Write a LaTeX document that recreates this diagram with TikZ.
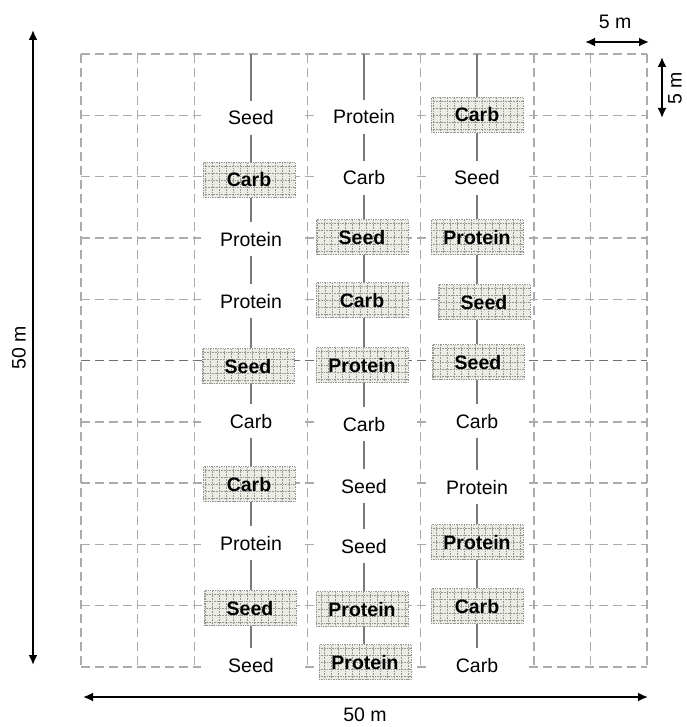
\documentclass[tikz,border=0pt]{standalone}
\usepackage{fontspec}
\setmainfont{Liberation Sans}
\usetikzlibrary{arrows.meta}
\definecolor{gridgray}{HTML}{ABABAB}
\definecolor{midgray}{HTML}{707070}
\definecolor{linegray}{HTML}{7A7A7A}
\definecolor{boxfill}{HTML}{EAEDE4}
\definecolor{boxgrid}{HTML}{959595}
\begin{document}
\begin{tikzpicture}[x=1pt,y=-1pt,
  gridline/.style={gridgray, line width=1.4pt, dash pattern=on 9pt off 5pt},
  midline/.style={midgray, line width=1.4pt, dash pattern=on 9pt off 5pt},
  lbl/.style={inner sep=0pt, text height=14pt, text depth=0pt, font=\fontsize{19.5}{20}\selectfont},
  plain/.style={lbl, fill=white, minimum width=100pt, minimum height=33pt},
  plot/.style={lbl, fill=boxfill, draw=boxgrid, densely dotted, line width=0.7pt,
     minimum width=92pt, minimum height=35pt, font=\fontsize{19.5}{20}\selectfont\bfseries,
     path picture={\draw[boxgrid, densely dotted, line width=0.6pt]
       (path picture bounding box.south west) grid[step=7pt] (path picture bounding box.north east);}},
  chain/.style={linegray, line width=1.8pt},
  dim/.style={black, line width=1.8pt, {Latex[length=10pt,width=9pt]}-{Latex[length=10pt,width=9pt]}},
  dimlabel/.style={inner sep=0pt, font=\fontsize{19.5}{20}\selectfont}
]
\fill[white] (0,0) rectangle (686,727);
\useasboundingbox (0,0) rectangle (686,727);

% grid
\foreach \i in {0,1,2,4,6,8,9,10} \draw[gridline] ({81+56.6*\i},54) -- ({81+56.6*\i},667);
\foreach \j in {0,...,10} \draw[gridline] (81,{54+61.3*\j}) -- (647,{54+61.3*\j});
\draw[midline] (81,360.5) -- (647,360.5);

% column tops
\coordinate (c1top) at (251,54);
\coordinate (c2top) at (364,54);
\coordinate (c3top) at (477,54);

% column 1
\node[plain] (c1n1) at (251,118) {Seed};
\node[plot]  (c1n2) at (249,180) {Carb};
\node[plain] (c1n3) at (251,239) {Protein};
\node[plain] (c1n4) at (251,301) {Protein};
\node[plot]  (c1n5) at (248,366) {Seed};
\node[plain] (c1n6) at (251,421) {Carb};
\node[plot]  (c1n7) at (249,484) {Carb};
\node[plain] (c1n8) at (251,543) {Protein};
\node[plot]  (c1n9) at (250,608) {Seed};
\node[plain] (c1n10) at (251,665) {Seed};

% column 2
\node[plain] (c2n1) at (364,117) {Protein};
\node[plain] (c2n2) at (364,178) {Carb};
\node[plot]  (c2n3) at (362,237) {Seed};
\node[plot]  (c2n4) at (362,300) {Carb};
\node[plot]  (c2n5) at (362,365) {Protein};
\node[plain] (c2n6) at (364,424) {Carb};
\node[plain] (c2n7) at (364,486) {Seed};
\node[plain] (c2n8) at (364,546) {Seed};
\node[plot]  (c2n9) at (362,609) {Protein};
\node[plot]  (c2n10) at (365,662) {Protein};

% column 3
\node[plot]  (c3n1) at (477,115) {Carb};
\node[plain] (c3n2) at (477,178) {Seed};
\node[plot]  (c3n3) at (477,237) {Protein};
\node[plot]  (c3n4) at (484,302) {Seed};
\node[plot]  (c3n5) at (478,362) {Seed};
\node[plain] (c3n6) at (477,421) {Carb};
\node[plain] (c3n7) at (477,487) {Protein};
\node[plot]  (c3n8) at (477,542) {Protein};
\node[plot]  (c3n9) at (477,606) {Carb};
\node[plain] (c3n10) at (477,665) {Carb};

% chains
\foreach \c in {1,2,3}{
  \draw[chain] (c\c top) -- (c\c n1.north -| c\c top);
  \foreach \k [evaluate=\k as \m using int(\k+1)] in {1,...,9}
    \draw[chain] (c\c n\k.south -| c\c top) -- (c\c n\m.north -| c\c top);
}

% dimensions
\coordinate (lt) at (33,30);
\coordinate (lb) at (33,665);
\draw[dim] (lt) -- (lb);
\node[dimlabel, rotate=90] (llab) at (19,348) {50 m};

\coordinate (bl) at (83,697);
\coordinate (br) at (648,697);
\draw[dim] (bl) -- (br);
\node[dimlabel] (blab) at (365,715) {50 m};

\coordinate (hl) at (585,42);
\coordinate (hr) at (649,42);
\draw[dim] (hl) -- (hr);
\node[dimlabel] (hlab) at (615,22) {5 m};

\coordinate (vt) at (662,57);
\coordinate (vb) at (662,118);
\draw[dim] (vt) -- (vb);
\node[dimlabel, rotate=90] (vlab) at (675,88) {5 m};
\end{tikzpicture}
\end{document}
